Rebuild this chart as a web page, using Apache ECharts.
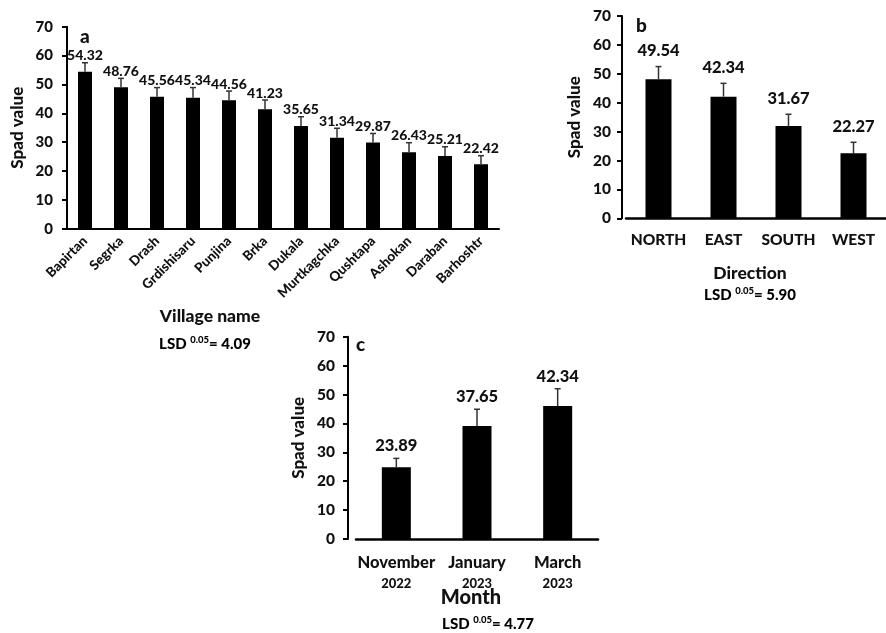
<!DOCTYPE html>
<html>
<head>
<meta charset="utf-8">
<script src="https://cdn.jsdelivr.net/npm/echarts@6/dist/echarts.min.js"></script>
<style>
  html, body { margin: 0; padding: 0; background: #fff; }
  #chart { width: 886px; height: 633px; }
</style>
</head>
<body>
<div id="chart"></div>
<script>
// panel a - villages
var villages = ['Bapirtan', 'Segrka', 'Drash', 'Grdishisaru', 'Punjina', 'Brka', 'Dukala', 'Murtkagchka', 'Qushtapa', 'Ashokan', 'Daraban', 'Barhoshtr'];
var villageLabels = ['54.32', '48.76', '45.56', '45.34', '44.56', '41.23', '35.65', '31.34', '29.87', '26.43', '25.21', '22.42'];
var villageBars = [54.4, 49.0, 45.7, 45.4, 44.5, 41.4, 35.6, 31.5, 29.9, 26.5, 25.2, 22.3];
var villageErr = [57.5, 52.1, 48.9, 48.9, 47.7, 44.6, 38.8, 34.8, 33.0, 29.8, 28.4, 25.3];

// panel b - direction
var directions = ['NORTH', 'EAST', 'SOUTH', 'WEST'];
var dirLabels = ['49.54', '42.34', '31.67', '22.27'];
var dirBars = [48.1, 42.1, 31.9, 22.5];
var dirErr = [52.5, 46.7, 36.0, 26.3];

// panel c - month
var monthNames = ['November', 'January', 'March'];
var monthYears = ['2022', '2023', '2023'];
var monthLabels = ['23.89', '37.65', '42.34'];
var monthBars = [24.8, 39.1, 46.0];
var monthErr = [27.9, 44.9, 52.0];

var yTicks = [0, 10, 20, 30, 40, 50, 60, 70];

var FONT = 'Lato';
var W = 900;
var INK = '#111';

function errData(bars, errs) {
  return bars.map(function (v, i) { return [i, v, errs[i]]; });
}

// error bar + value label drawn through the axis scales
function errItem(labels, capHalf, gap, fontSize) {
  return function (params, api) {
    var i = api.value(0);
    var base = api.coord([i, api.value(1)]);
    var top = api.coord([i, api.value(2)]);
    return {
      type: 'group',
      children: [
        { type: 'line', shape: { x1: top[0], y1: base[1], x2: top[0], y2: top[1] }, style: { stroke: '#333', lineWidth: 1.5 } },
        { type: 'line', shape: { x1: top[0] - capHalf, y1: top[1], x2: top[0] + capHalf, y2: top[1] }, style: { stroke: '#333', lineWidth: 1.5 } },
        { type: 'text', style: { text: labels[i], x: top[0], y: top[1] - gap, align: 'center', verticalAlign: 'bottom',
          fontSize: fontSize, fontWeight: W, fontFamily: FONT, fill: INK } }
      ]
    };
  };
}

function yAxisOf(gridIndex, offset, nameGap, labelMargin, labelSize) {
  return {
    gridIndex: gridIndex,
    type: 'value',
    min: yTicks[0],
    max: yTicks[yTicks.length - 1],
    interval: 10,
    offset: offset,
    name: 'Spad value',
    nameLocation: 'middle',
    nameGap: nameGap,
    nameRotate: 90,
    nameTextStyle: { fontSize: 17, fontWeight: W, fontFamily: FONT, color: INK },
    axisLine: { show: true, lineStyle: { color: '#000', width: 2 } },
    axisTick: { show: true, length: 5, lineStyle: { color: '#000', width: 2 } },
    splitLine: { show: false },
    axisLabel: { margin: labelMargin, fontSize: labelSize, fontWeight: W, fontFamily: FONT, color: INK }
  };
}

function lsdStyle(val) {
  return {
    text: '{t|LSD }{s|0.05}{t|= ' + val + '}',
    align: 'center', verticalAlign: 'middle',
    rich: {
      t: { fontSize: 15, fontWeight: W, fontFamily: FONT, color: INK, lineHeight: 18 },
      s: { fontSize: 9.5, fontWeight: W, fontFamily: FONT, color: INK, lineHeight: 10, verticalAlign: 'top' }
    }
  };
}

function titleStyle(text, size) {
  return { text: text, align: 'center', verticalAlign: 'middle', fontSize: size, fontWeight: W, fontFamily: FONT, fill: INK };
}

var chart = echarts.init(document.getElementById('chart'));

chart.setOption({
  backgroundColor: '#fff',
  animation: false,
  grid: [
    { left: 67, top: 26.7, width: 432, height: 202 },
    { left: 626, top: 16, width: 264, height: 202.3 },
    { left: 356, top: 336.7, width: 242, height: 202.3 }
  ],
  xAxis: [
    {
      gridIndex: 0, type: 'category', data: villages,
      axisLine: { lineStyle: { color: '#000', width: 2 } },
      axisTick: { length: 4, lineStyle: { color: '#000', width: 2 } },
      axisLabel: { rotate: 45, margin: 10, interval: 0, fontSize: 13.5, fontWeight: W, fontFamily: FONT, color: INK }
    },
    {
      gridIndex: 1, type: 'category', data: directions,
      axisLine: { lineStyle: { color: '#000', width: 2.5 } },
      axisTick: { length: 5, lineStyle: { color: '#000', width: 2 } },
      axisLabel: { margin: 14, interval: 0, fontSize: 15.5, fontWeight: W, fontFamily: FONT, color: INK }
    },
    {
      gridIndex: 2, type: 'category', data: monthNames,
      axisLine: { lineStyle: { color: '#000', width: 2.5 } },
      axisTick: { length: 5, lineStyle: { color: '#000', width: 2 } },
      axisLabel: {
        margin: 14, interval: 0, lineHeight: 20,
        formatter: function (v, i) { return '{m|' + v + '}\n{y|' + monthYears[i] + '}'; },
        rich: {
          m: { fontSize: 16.5, fontWeight: W, fontFamily: FONT, color: INK, lineHeight: 20 },
          y: { fontSize: 13, fontWeight: W, fontFamily: FONT, color: INK, lineHeight: 22 }
        }
      }
    }
  ],
  yAxis: [
    yAxisOf(0, 0, 41, 14, 15),
    yAxisOf(1, 4, 39, 11, 15.5),
    yAxisOf(2, 8, 41, 13, 15.5)
  ],
  series: [
    { type: 'bar', xAxisIndex: 0, yAxisIndex: 0, data: villageBars, barWidth: 14, itemStyle: { color: '#000' } },
    { type: 'custom', xAxisIndex: 0, yAxisIndex: 0, data: errData(villageBars, villageErr),
      renderItem: errItem(villageLabels, 3, 0, 14), z: 5 },
    { type: 'bar', xAxisIndex: 1, yAxisIndex: 1, data: dirBars, barWidth: 26, itemStyle: { color: '#000' } },
    { type: 'custom', xAxisIndex: 1, yAxisIndex: 1, data: errData(dirBars, dirErr),
      renderItem: errItem(dirLabels, 3, 7, 16.5), z: 5 },
    { type: 'bar', xAxisIndex: 2, yAxisIndex: 2, data: monthBars, barWidth: 29, itemStyle: { color: '#000' } },
    { type: 'custom', xAxisIndex: 2, yAxisIndex: 2, data: errData(monthBars, monthErr),
      renderItem: errItem(monthLabels, 3, 4, 16.5), z: 5 }
  ],
  graphic: [
    { type: 'text', x: 80, y: 27, style: { text: 'a', fontSize: 19, fontWeight: W, fontFamily: FONT, fill: INK } },
    { type: 'text', x: 636, y: 16, style: { text: 'b', fontSize: 19, fontWeight: W, fontFamily: FONT, fill: INK } },
    { type: 'text', x: 356, y: 335, style: { text: 'c', fontSize: 19, fontWeight: W, fontFamily: FONT, fill: INK } },
    { type: 'text', x: 210, y: 316, style: titleStyle('Village name', 17.5) },
    { type: 'text', x: 750, y: 273, style: titleStyle('Direction', 17.5) },
    { type: 'text', x: 471, y: 598, style: titleStyle('Month', 20) },
    { type: 'text', x: 205, y: 344, style: lsdStyle('4.09') },
    { type: 'text', x: 750, y: 295, style: lsdStyle('5.90') },
    { type: 'text', x: 488, y: 624, style: lsdStyle('4.77') }
  ]
});
</script>
</body>
</html>
